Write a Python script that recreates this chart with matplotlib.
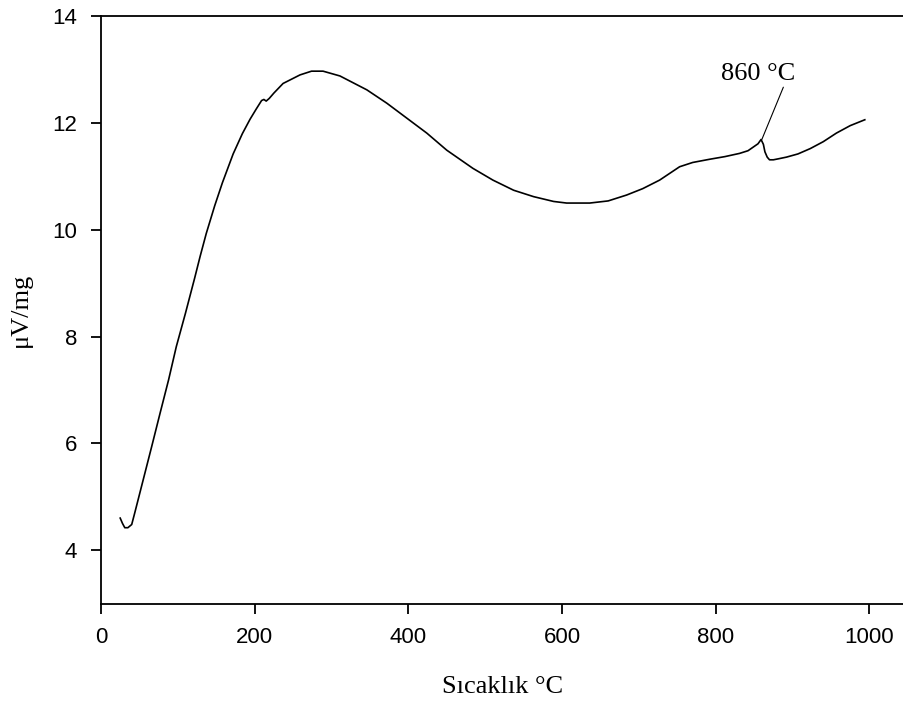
import matplotlib.pyplot as plt

# DTA trace
temp = [25, 28, 31, 35, 40, 44, 55, 66, 77, 88, 98, 110, 122, 129, 137, 148,
        158, 172, 184, 194, 202, 209, 212, 215, 219, 225, 237, 259, 274, 289,
        311, 346, 372, 398, 424, 450, 484, 510, 537, 563, 589, 606, 636, 660,
        684, 705, 727, 753, 770, 792, 812, 831, 842, 849, 855, 859, 862, 864,
        867, 870, 875, 882, 892, 907, 923, 940, 957, 975, 994]
signal = [4.60, 4.50, 4.42, 4.42, 4.48, 4.70, 5.32, 5.94, 6.57, 7.19, 7.81,
          8.44, 9.10, 9.50, 9.93, 10.45, 10.88, 11.42, 11.80, 12.07, 12.26,
          12.42, 12.44, 12.41, 12.46, 12.56, 12.74, 12.90, 12.97, 12.97, 12.88,
          12.62, 12.37, 12.09, 11.81, 11.49, 11.15, 10.93, 10.74, 10.62, 10.53,
          10.50, 10.50, 10.54, 10.65, 10.77, 10.93, 11.18, 11.26, 11.32, 11.37,
          11.43, 11.48, 11.55, 11.61, 11.69, 11.60, 11.46, 11.36, 11.31, 11.31,
          11.33, 11.36, 11.42, 11.52, 11.65, 11.81, 11.95, 12.06]

peak_t, peak_v = 860, 11.69
peak_label = '860 °C'

fig = plt.figure(figsize=(9.04, 7.03), dpi=100)
ax = fig.add_axes([0.1117, 0.1415, 0.8883, 0.8355])

ax.plot(temp, signal, color='black', lw=1.2)
# leader line from the peak up to the label
ax.annotate('', xy=(peak_t, peak_v), xytext=(888, 12.67),
            arrowprops=dict(arrowstyle='-', color='black', lw=0.8,
                            shrinkA=0, shrinkB=0))
ax.text(855, 12.92, peak_label, ha='center', va='center', fontsize=19,
        family='Liberation Serif')

ax.set_xlim(0, 1045)
ax.set_ylim(3, 14)
ax.set_xticks([0, 200, 400, 600, 800, 1000])
ax.set_yticks([4, 6, 8, 10, 12, 14])
ax.spines['right'].set_visible(False)
for s in ['left', 'bottom', 'top']:
    ax.spines[s].set_linewidth(1.3)
ax.tick_params(direction='out', length=7, width=1.3, labelsize=16, pad=10)
for lab in ax.get_xticklabels() + ax.get_yticklabels():
    lab.set_family('Liberation Sans')

ax.set_xlabel('Sıcaklık °C', fontsize=19, family='Liberation Serif', labelpad=20)
ax.set_ylabel('μV/mg', fontsize=19, family='Liberation Serif', labelpad=15)

plt.savefig('out.png', dpi=100)
